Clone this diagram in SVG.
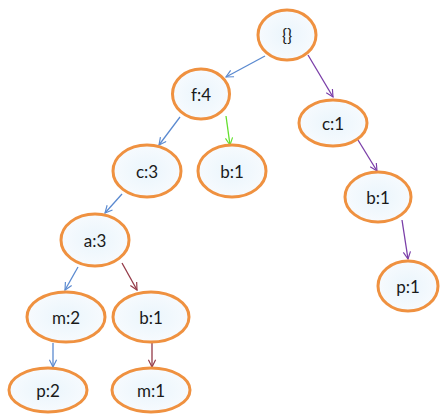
<svg xmlns="http://www.w3.org/2000/svg" width="440" height="415" viewBox="0 0 440 415">
  <defs>
    <radialGradient id="nodeFill" cx="50%" cy="50%" r="55%">
      <stop offset="0" stop-color="#eaf5fc"/>
      <stop offset="1" stop-color="#f8fbfe"/>
    </radialGradient>
    <marker id="headBlue" viewBox="0 0 10 10" refX="9" refY="5" markerWidth="9" markerHeight="9" markerUnits="userSpaceOnUse" orient="auto">
      <path d="M1,1 L9,5 L1,9" fill="none" stroke="#5b8ad0" stroke-width="1.3"/>
    </marker>
    <marker id="headPurple" viewBox="0 0 10 10" refX="9" refY="5" markerWidth="9" markerHeight="9" markerUnits="userSpaceOnUse" orient="auto">
      <path d="M1,1 L9,5 L1,9" fill="none" stroke="#7a3ea8" stroke-width="1.3"/>
    </marker>
    <marker id="headGreen" viewBox="0 0 10 10" refX="9" refY="5" markerWidth="9" markerHeight="9" markerUnits="userSpaceOnUse" orient="auto">
      <path d="M1,1 L9,5 L1,9" fill="none" stroke="#62e02c" stroke-width="1.3"/>
    </marker>
    <marker id="headRed" viewBox="0 0 10 10" refX="9" refY="5" markerWidth="9" markerHeight="9" markerUnits="userSpaceOnUse" orient="auto">
      <path d="M1,1 L9,5 L1,9" fill="none" stroke="#943a48" stroke-width="1.3"/>
    </marker>
  </defs>
  <style>
    .node ellipse { fill: url(#nodeFill); stroke: #ef9140; stroke-width: 3; }
    .node text { font-family: Lato, "Open Sans", "Liberation Sans", sans-serif; font-size: 17px; fill: #1a1a1a; text-anchor: middle; dominant-baseline: central; }
    .edge { fill: none; stroke-width: 1.3; }
    .blue { stroke: #5b8ad0; marker-end: url(#headBlue); }
    .purple { stroke: #7a3ea8; marker-end: url(#headPurple); }
    .green { stroke: #62e02c; marker-end: url(#headGreen); }
    .red { stroke: #943a48; marker-end: url(#headRed); }
  </style>
  <rect width="440" height="415" fill="#ffffff"/>

  <!-- connectors -->
  <g id="connectors">
    <line class="edge blue" x1="265" y1="56" x2="226" y2="77"/>
    <line class="edge purple" x1="308" y1="55" x2="333" y2="97"/>
    <line class="edge blue" x1="180" y1="117" x2="159" y2="145"/>
    <line class="edge green" x1="226" y1="116" x2="230" y2="145"/>
    <line class="edge blue" x1="122" y1="194" x2="105" y2="213"/>
    <line class="edge purple" x1="358" y1="140" x2="377" y2="171"/>
    <line class="edge purple" x1="402" y1="220" x2="408" y2="259"/>
    <line class="edge blue" x1="78" y1="267" x2="65" y2="290"/>
    <line class="edge red" x1="122" y1="263" x2="137" y2="290"/>
    <line class="edge blue" x1="53" y1="343" x2="53" y2="367"/>
    <line class="edge red" x1="152" y1="343" x2="152" y2="367"/>
  </g>

  <!-- nodes -->
  <g id="root" class="node"><ellipse cx="287" cy="35" rx="29" ry="25"/><text x="287" y="35">{}</text></g>
  <g id="f4" class="node"><ellipse cx="201" cy="94" rx="28.5" ry="25"/><text x="201" y="94">f:4</text></g>
  <g id="c1" class="node"><ellipse cx="333" cy="123" rx="34" ry="23"/><text x="333" y="123">c:1</text></g>
  <g id="c3" class="node"><ellipse cx="147" cy="171" rx="34" ry="26"/><text x="147" y="171">c:3</text></g>
  <g id="b1-mid" class="node"><ellipse cx="232" cy="171" rx="34" ry="26"/><text x="232" y="171">b:1</text></g>
  <g id="b1-right" class="node"><ellipse cx="378" cy="197" rx="33" ry="25"/><text x="378" y="197">b:1</text></g>
  <g id="a3" class="node"><ellipse cx="95" cy="240" rx="34" ry="26"/><text x="95" y="240">a:3</text></g>
  <g id="p1" class="node"><ellipse cx="408" cy="286" rx="30" ry="25"/><text x="408" y="286">p:1</text></g>
  <g id="m2" class="node"><ellipse cx="66" cy="317" rx="39" ry="25"/><text x="66" y="317">m:2</text></g>
  <g id="b1-low" class="node"><ellipse cx="151" cy="317" rx="38" ry="25"/><text x="151" y="317">b:1</text></g>
  <g id="p2" class="node"><ellipse cx="48" cy="390" rx="39" ry="22"/><text x="48" y="390">p:2</text></g>
  <g id="m1" class="node"><ellipse cx="151" cy="390" rx="39" ry="22"/><text x="151" y="390">m:1</text></g>
</svg>
